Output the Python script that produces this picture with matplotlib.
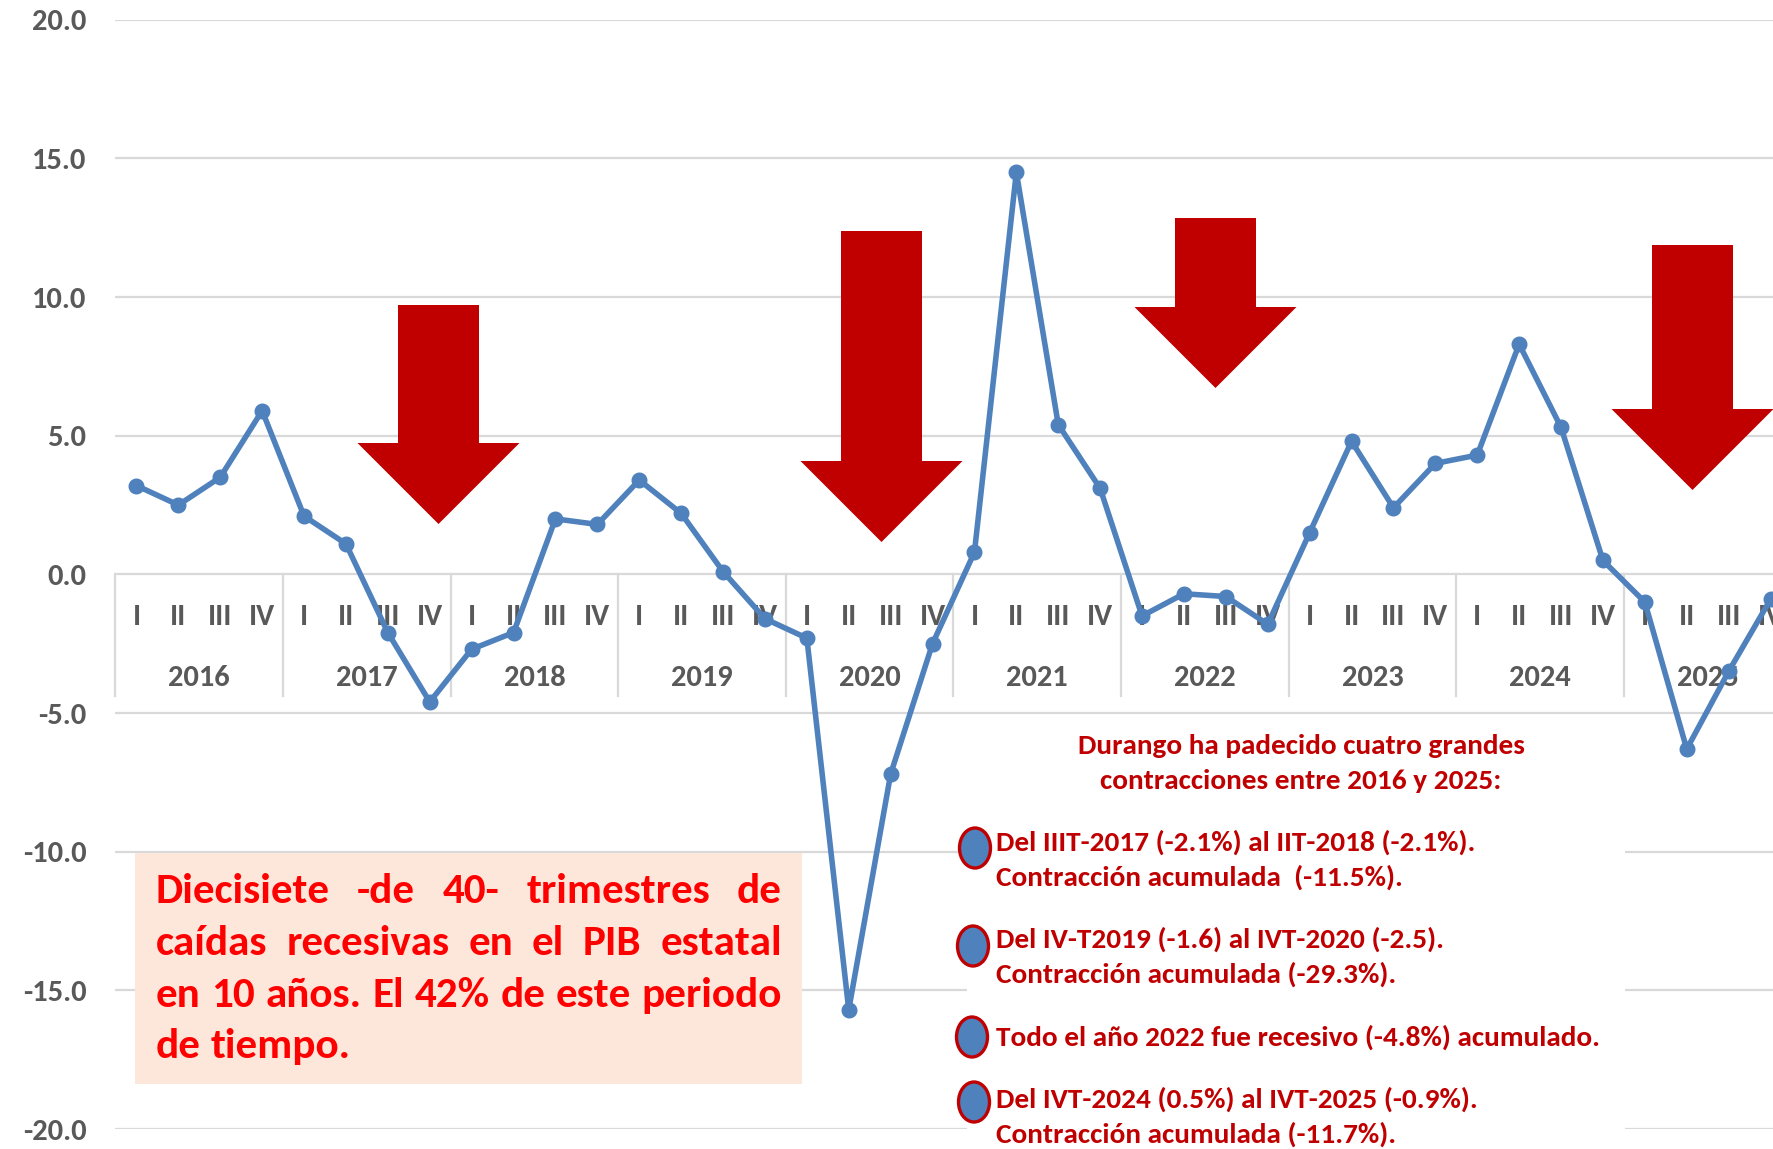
import numpy as np
import matplotlib
matplotlib.use("Agg")
import matplotlib.pyplot as plt
from matplotlib import font_manager
from matplotlib.patches import Polygon, Rectangle, Ellipse

W, H = 1774, 1149

# ---- data ----
years = ["2016", "2017", "2018", "2019", "2020", "2021", "2022", "2023", "2024", "2025"]
quarters = ["I", "II", "III", "IV"]
pib = [3.2, 2.5, 3.5, 5.9,
       2.1, 1.1, -2.1, -4.6,
       -2.7, -2.1, 2.0, 1.8,
       3.4, 2.2, 0.1, -1.6,
       -2.3, -15.7, -7.2, -2.5,
       0.8, 14.5, 5.4, 3.1,
       -1.5, -0.7, -0.8, -1.8,
       1.5, 4.8, 2.4, 4.0,
       4.3, 8.3, 5.3, 0.5,
       -1.0, -6.3, -3.5, -0.9]
y_ticks = [20, 15, 10, 5, 0, -5, -10, -15, -20]

note_left = ["Diecisiete -de 40- trimestres de",
             "caídas recesivas en el PIB estatal",
             "en 10 años. El 42% de este periodo",
             "de tiempo."]
note_title = ["Durango ha padecido cuatro grandes",
              "contracciones entre 2016 y 2025:"]
note_items = [["Del IIIT-2017 (-2.1%) al IIT-2018 (-2.1%).", "Contracción acumulada  (-11.5%)."],
              ["Del IV-T2019 (-1.6) al IVT-2020 (-2.5).", "Contracción acumulada (-29.3%)."],
              ["Todo el año 2022 fue recesivo (-4.8%) acumulado."],
              ["Del IVT-2024 (0.5%) al IVT-2025 (-0.9%).", "Contracción acumulada (-11.7%)."]]

# ---- style ----
installed = {f.name for f in font_manager.fontManager.ttflist}
FONT = next((f for f in ["Carlito", "Lato", "Open Sans"] if f in installed), "DejaVu Sans")
plt.rcParams["font.family"] = [FONT, "DejaVu Sans"]
BLUE = "#4F81BD"
DARKRED = "#C00000"
GRAY = "#595959"
GRID = "#D9D9D9"
LABEL_SIZE = 22


def fx(x):
    return x / W


def fy(y):
    return 1 - y / H


fig = plt.figure(figsize=(W / 100, H / 100), dpi=100)
step = 41.9
ax = fig.add_axes([fx(115.5), fy(1129), 40 * step / W, (1129 - 19.7) / H])
ax.set_xlim(-0.5, 39.5)
ax.set_ylim(-20, 20)
for s in ax.spines.values():
    s.set_visible(False)
ax.set_xticks([])
ax.set_yticks(y_ticks)
ax.set_yticklabels([f"{v:.1f}" for v in y_ticks])
ax.tick_params(axis="y", length=0, pad=21, labelsize=LABEL_SIZE, labelcolor=GRAY)
for lab in ax.get_yticklabels():
    lab.set_fontweight("bold")
ax.set_axisbelow(True)
ax.grid(axis="y", color=GRID, lw=1.6)

# year separators of the category axis
for k in range(len(years) + 1):
    ax.plot([4 * k - 0.5, 4 * k - 0.5], [0, -4.4], color=GRID, lw=1.6, zorder=0.6, clip_on=False)

x = np.arange(len(pib))
for i in x:
    ax.text(i, -1.55, quarters[i % 4], ha="center", va="center", fontsize=LABEL_SIZE,
            color=GRAY, fontweight="bold", zorder=1.5)
for k, yr in enumerate(years):
    ax.text(4 * k + 1.5, -3.75, yr, ha="center", va="center", fontsize=LABEL_SIZE,
            color=GRAY, fontweight="bold", zorder=1.5)

ax.plot(x, pib, color=BLUE, lw=4, marker="o", markersize=10.5, zorder=3, clip_on=False)

# ---- red block arrows (pixel layout) ----
arrows = [(438.5, 305, 443, 524), (881.5, 231, 461, 542),
          (1215.5, 218, 307, 388), (1692.5, 245, 409, 490)]
for cx, top, head, tip in arrows:
    pts = [(cx - 40.5, top), (cx + 40.5, top), (cx + 40.5, head), (cx + 81, head),
           (cx, tip), (cx - 81, head), (cx - 40.5, head)]
    ax.add_patch(Polygon([(fx(a), fy(b)) for a, b in pts], closed=True, transform=fig.transFigure,
                         facecolor=DARKRED, edgecolor="none", zorder=1, clip_on=False))

renderer = fig.canvas.get_renderer()


def text_width(s, size):
    t = fig.text(0, 0, s, fontsize=size, fontweight="bold")
    w = t.get_window_extent(renderer).width
    t.remove()
    return w


# ---- left note ----
ax.add_patch(Rectangle((fx(135), fy(1084)), (802 - 135) / W, (1084 - 852.7) / H,
                       transform=fig.transFigure, facecolor="#FCE7DA", edgecolor="none",
                       zorder=1, clip_on=False))
size_l = 30 * 620 / text_width(note_left[2], 30)
x0, x1 = 156, 782
for j, line in enumerate(note_left):
    base = 903 + j * 51.8
    words = line.split()
    ws = [text_width(w, size_l) for w in words]
    if j < len(note_left) - 1:
        gap = (x1 - x0 - sum(ws)) / (len(words) - 1)
    else:
        gap = text_width("a b", size_l) - text_width("ab", size_l)
    xp = x0
    for w, wd in zip(words, ws):
        fig.text(fx(xp), fy(base), w, fontsize=size_l, fontweight="bold", color="#FF0000",
                 ha="left", va="baseline")
        xp += wd + gap

# ---- right note ----
ax.add_patch(Rectangle((fx(967), 0), (1625 - 967) / W, fy(720), transform=fig.transFigure,
                       facecolor="white", edgecolor="none", zorder=1, clip_on=False))
size_r = 30 * 604 / text_width(note_items[2][0], 30)
for j, line in enumerate(note_title):
    fig.text(fx(1301), fy(754 + j * 35), line, fontsize=size_r, fontweight="bold",
             color=DARKRED, ha="center", va="baseline")
bases = [[851, 886], [948, 983], [1045.5], [1108, 1143]]
bullets = [(975, 848), (973, 946), (972, 1037), (974, 1102)]
for item, bl, (bx, by) in zip(note_items, bases, bullets):
    ax.add_patch(Ellipse((fx(bx), fy(by)), 31 / W, 40 / H, transform=fig.transFigure,
                         facecolor=BLUE, edgecolor=DARKRED, lw=2.4, zorder=2, clip_on=False))
    for line, b in zip(item, bl):
        fig.text(fx(996), fy(b), line, fontsize=size_r, fontweight="bold", color=DARKRED,
                 ha="left", va="baseline")

fig.savefig("out.png", dpi=100)
